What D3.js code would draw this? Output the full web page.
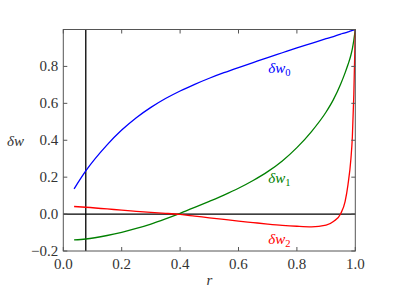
<!DOCTYPE html>
<html>
<head>
<meta charset="utf-8">
<script src="https://cdn.jsdelivr.net/npm/d3@7"></script>
<style>
  body { margin: 0; background: #fff; }
</style>
</head>
<body>
<div id="chart"></div>
<script>
// radial grid and the three perturbation curves
const rValues = [0.037, 0.077, 0.15, 0.2, 0.25, 0.3, 0.35, 0.4, 0.45, 0.5, 0.55, 0.6, 0.65,
  0.7, 0.75, 0.8, 0.85, 0.9, 0.925, 0.95, 0.965, 0.975, 0.985, 0.99, 0.995, 1.0];
const dw0 = [0.137, 0.234, 0.375, 0.455, 0.522, 0.578, 0.626, 0.667, 0.703, 0.736, 0.766, 0.794, 0.821,
  0.848, 0.874, 0.9, 0.925, 0.95, 0.962, 0.975, 0.982, 0.987, 0.992, 0.995, 0.9975, 1.0];
const dw1 = [-0.14, -0.135, -0.116, -0.099, -0.078, -0.054, -0.026, 0.004, 0.036, 0.069, 0.103, 0.14, 0.182,
  0.23, 0.288, 0.36, 0.447, 0.553, 0.62, 0.705, 0.765, 0.81, 0.862, 0.897, 0.943, 1.0];
const dw2 = [0.041, 0.037, 0.028, 0.021, 0.015, 0.009, 0.004, -0.002, -0.011, -0.02, -0.029, -0.038, -0.046,
  -0.054, -0.061, -0.066, -0.069, -0.06, -0.04, 0.002, 0.068, 0.16, 0.3, 0.42, 0.65, 1.0];

const seriesNames = ["0", "1", "2"];
const seriesColors = ["#0000ff", "#008000", "#ff0000"];
const labelPos = [[0.702, 0.766], [0.702, 0.171], [0.702, -0.161]]; // [r, value] of label baseline start

const xTicks = [0.0, 0.2, 0.4, 0.6, 0.8, 1.0];
const yTicks = [-0.2, 0.0, 0.2, 0.4, 0.6, 0.8, 1.0];
const yLabelled = [-0.2, 0.0, 0.2, 0.4, 0.6, 0.8];
const rCut = 0.077;

const FONT = 'Tinos, "Times New Roman", "Liberation Serif", "DejaVu Serif", "Noto Serif", Times, serif';
const W = 395, H = 296;
const margin = { top: 29.5, right: 39.7, bottom: 45, left: 63.3 };
const iw = W - margin.left - margin.right;
const ih = H - margin.top - margin.bottom;

const x = d3.scaleLinear().domain([0, 1]).range([0, iw]);
const y = d3.scaleLinear().domain([-0.2, 1.0]).range([ih, 0]);

const svg = d3.select('#chart').append('svg')
  .attr('width', W)
  .attr('height', H)
  .attr('font-family', FONT);
const g = svg.append('g').attr('transform', `translate(${margin.left},${margin.top})`);

// reference lines
g.append('line')
  .attr('x1', 0).attr('x2', iw)
  .attr('y1', y(0)).attr('y2', y(0))
  .attr('stroke', '#000').attr('stroke-width', 1.3);
g.append('line')
  .attr('x1', x(rCut)).attr('x2', x(rCut))
  .attr('y1', 0).attr('y2', ih)
  .attr('stroke', '#000').attr('stroke-width', 1.3);

// curves
const line = d3.line()
  .x(d => x(d[0]))
  .y(d => y(d[1]))
  .curve(d3.curveMonotoneX);

[dw0, dw1, dw2].forEach((vals, i) => {
  g.append('path')
    .datum(rValues.map((r, j) => [r, vals[j]]))
    .attr('fill', 'none')
    .attr('stroke', seriesColors[i])
    .attr('stroke-width', 1.3)
    .attr('d', line);

  const t = g.append('text')
    .attr('x', x(labelPos[i][0]))
    .attr('y', y(labelPos[i][1]))
    .attr('fill', seriesColors[i])
    .style('font-family', FONT)
    .style('font-size', '15px')
    .style('font-style', 'italic');
  t.append('tspan').text('δw');
  t.append('tspan')
    .attr('dy', 3)
    .style('font-size', '10.5px')
    .style('font-style', 'normal')
    .text(seriesNames[i]);
});

// frame with inward ticks on all four sides
const spine = '#555';
g.append('rect')
  .attr('width', iw).attr('height', ih)
  .attr('fill', 'none')
  .attr('stroke', spine)
  .attr('stroke-width', 1);

const tickLen = 4;
xTicks.forEach(v => {
  g.append('line').attr('x1', x(v)).attr('x2', x(v)).attr('y1', ih).attr('y2', ih - tickLen)
    .attr('stroke', spine);
  g.append('line').attr('x1', x(v)).attr('x2', x(v)).attr('y1', 0).attr('y2', tickLen)
    .attr('stroke', spine);
  g.append('text')
    .attr('x', x(v)).attr('y', ih + 18)
    .attr('text-anchor', 'middle')
    .attr('fill', '#333')
    .style('font-family', FONT)
    .style('font-size', '15px')
    .text(v.toFixed(1));
});
yTicks.forEach(v => {
  g.append('line').attr('x1', 0).attr('x2', tickLen).attr('y1', y(v)).attr('y2', y(v))
    .attr('stroke', spine);
  g.append('line').attr('x1', iw).attr('x2', iw - tickLen).attr('y1', y(v)).attr('y2', y(v))
    .attr('stroke', spine);
});
yLabelled.forEach(v => {
  g.append('text')
    .attr('x', -5).attr('y', y(v) + 5)
    .attr('text-anchor', 'end')
    .attr('fill', '#333')
    .style('font-family', FONT)
    .style('font-size', '15px')
    .text(v < 0 ? '−' + Math.abs(v).toFixed(1) : v.toFixed(1));
});

// axis labels
svg.append('text')
  .attr('x', margin.left + iw / 2).attr('y', 285)
  .attr('text-anchor', 'middle')
  .attr('fill', '#333')
  .style('font-family', FONT)
  .style('font-size', '15px')
  .style('font-style', 'italic')
  .text('r');
svg.append('text')
  .attr('x', 7).attr('y', 146)
  .attr('fill', '#333')
  .style('font-family', FONT)
  .style('font-size', '15px')
  .style('font-style', 'italic')
  .text('δw');
</script>
</body>
</html>
